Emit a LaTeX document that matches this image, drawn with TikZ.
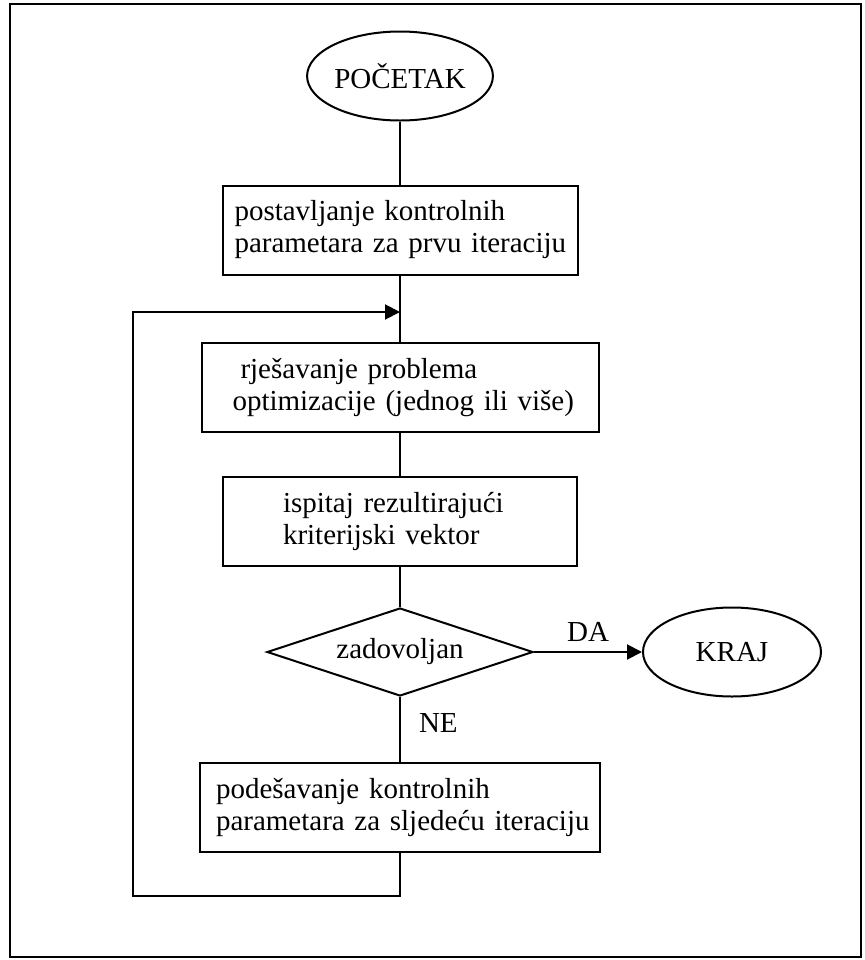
\documentclass[tikz,border=0pt]{standalone}
\usepackage{fontspec}
\setmainfont{Liberation Serif}
\usepackage{tikz}
\usetikzlibrary{shapes,arrows.meta,positioning}

\begin{document}
\begin{tikzpicture}[x=0.5pt, y=-0.5pt, font=\fontsize{14.5pt}{16pt}\selectfont]
    \tikzstyle{box} = [rectangle, draw, line width=1pt, align=left, inner xsep=0pt, inner ysep=0pt, minimum height=44.5pt, execute at begin node={\leftskip=#1}]
    \tikzstyle{terminal} = [ellipse, draw, line width=1pt, minimum width=89pt, minimum height=44.5pt, inner sep=0pt]
    \tikzstyle{decision} = [diamond, draw, line width=1pt, aspect=3, minimum width=133pt, minimum height=44pt, inner sep=0pt]
    \tikzstyle{line} = [line width=1pt]
    \tikzstyle{arrow} = [line width=1pt, -{Triangle[length=7.5pt, width=7.5pt]}]

    \useasboundingbox (0,0) rectangle (864,960);
    \draw [line] (10,4) rectangle (861,957);

    \node [terminal] (start) at (400,76) {POČETAK};
    \node [box=6pt, text width=177.5pt] (init) at (400,230) {postavljanje kontrolnih\\parametara za prvu iteraciju};
    \node [box=15.5pt, text width=198.5pt] (solve) at (400,387.5) {\hspace*{4pt}rješavanje problema\\optimizacije (jednog ili više)};
    \node [box=30pt, text width=177pt] (check) at (400,521.5) {ispitaj rezultirajući\\kriterijski vektor};
    \node [decision] (test) at (400,652) {zadovoljan};
    \node [terminal] (stop) at (732,652) {KRAJ};
    \node [box=8pt, text width=200pt] (adjust) at (400,807.5) {podešavanje kontrolnih\\parametara za sljedeću iteraciju};

    \coordinate (join) at (400,312);
    \coordinate (back) at (133,896);

    \draw [line] (start) -- (init);
    \draw [line] (init) -- (solve);
    \draw [line] (solve) -- (check);
    \draw [line] (check) -- (test);
    \draw [arrow] (test) -- node [above, inner sep=4.5pt] {DA} (stop);
    \draw [line] (test) -- node [right, pos=0.4, inner sep=0pt, xshift=9pt] {NE} (adjust);
    \draw [arrow] (adjust) |- (back) |- (join);
\end{tikzpicture}
\end{document}
